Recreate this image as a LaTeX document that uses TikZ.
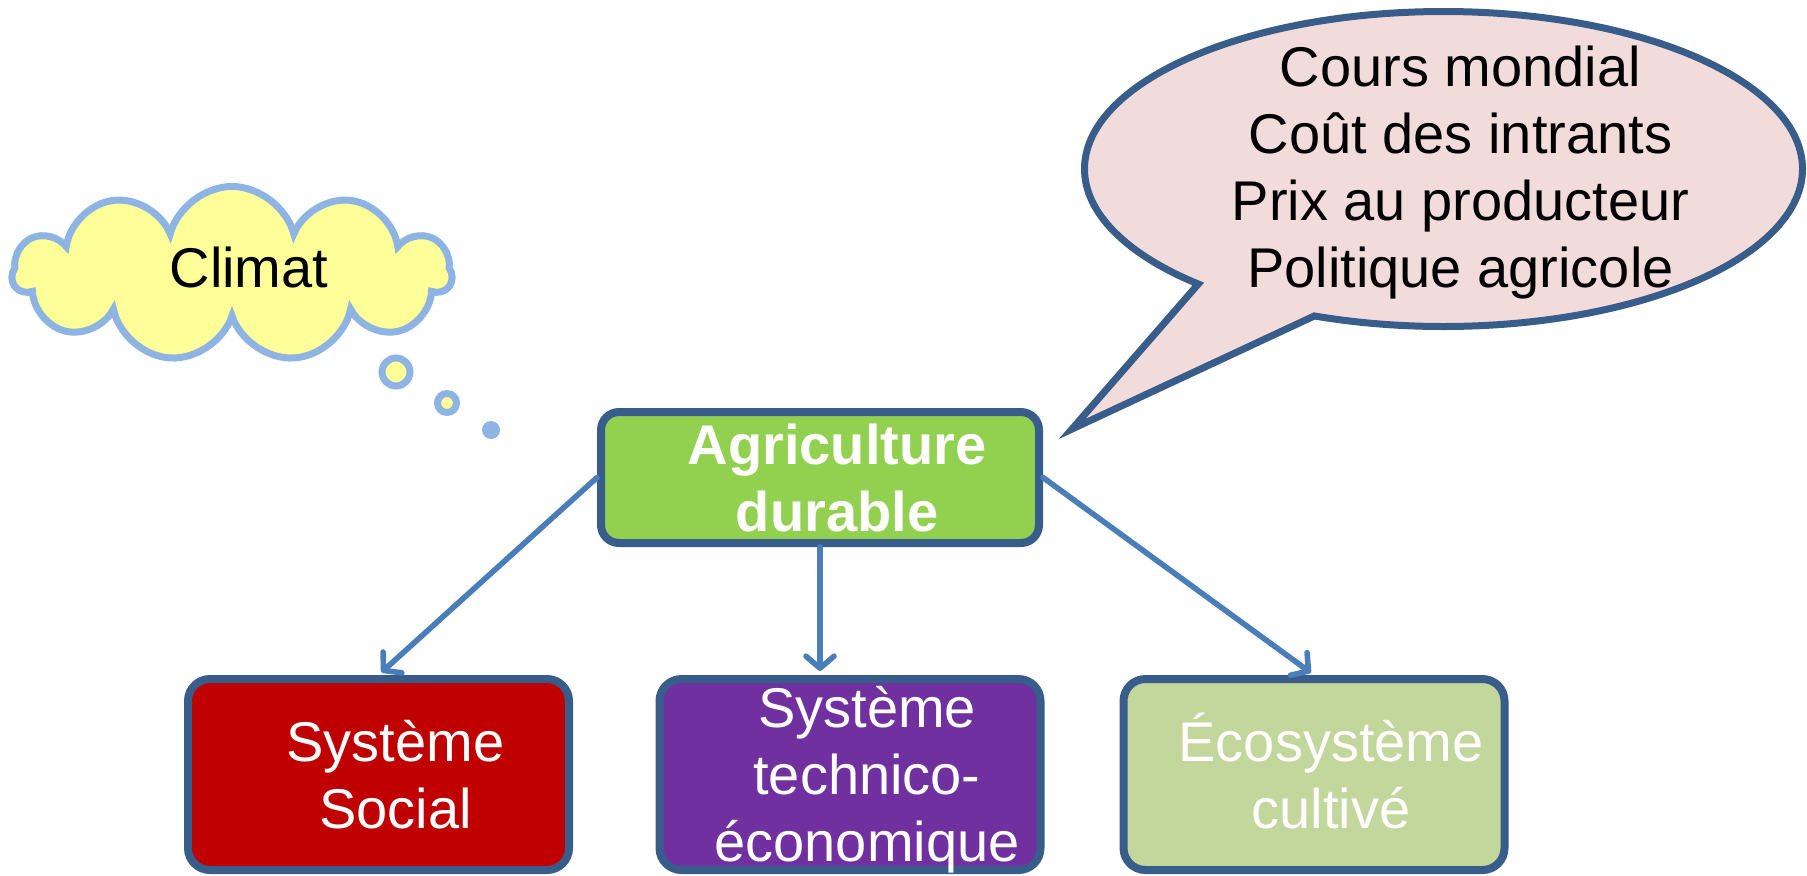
\documentclass[tikz,border=0pt]{standalone}
\usepackage{fontspec}
\setmainfont{Liberation Sans}
\usetikzlibrary{shapes.geometric,shapes.symbols,shapes.callouts,arrows.meta}

\definecolor{boxline}{RGB}{56,93,138}
\definecolor{arrowblue}{RGB}{74,126,187}
\definecolor{agrigreen}{RGB}{146,208,80}
\definecolor{socialred}{RGB}{192,0,0}
\definecolor{techpurple}{RGB}{112,48,160}
\definecolor{ecogreen}{RGB}{195,214,155}
\definecolor{calloutfill}{RGB}{242,220,219}
\definecolor{cloudline}{RGB}{142,180,227}
\definecolor{cloudfill}{RGB}{255,255,153}

% text sits a little right of (and below) the shape centre
\newcommand{\padlines}[2][30.5pt]{\begin{tabular}{@{\hspace{17pt}}c@{}}\rule{0pt}{#1}#2\end{tabular}}

\begin{document}
\begin{tikzpicture}[
    x=0.5pt, y=-0.5pt,
    node distance=148.5pt,
    bigfont/.style={font=\fontsize{28}{33.5}\selectfont},
    box/.style={rectangle, draw=boxline, line width=4pt, rounded corners=11pt, text=white, bigfont, minimum width=190.5pt, minimum height=95.5pt, inner xsep=0pt, inner ysep=-8pt},
    arrow/.style={-{Straight Barb[length=6pt,width=14pt,round]}, line width=2.8pt, draw=arrowblue, line cap=round, shorten >=2pt},
    bubble/.style={circle, draw=cloudline, fill=cloudfill, line width=3.5pt, inner sep=0pt}
]
\useasboundingbox (0,0) rectangle (1807,875);

% Central node
\node[box, fill=agrigreen, minimum width=219pt, minimum height=65.5pt, rounded corners=9pt, font=\fontsize{28}{33.5}\selectfont\bfseries] (agri) at (820,477.5) {\padlines{Agriculture\\durable}};

% Three systems
\node[box, fill=socialred, below of=agri, xshift=-220.75pt] (social) {\padlines{Système\\Social}};
\node[box, fill=techpurple, below of=agri, xshift=15pt] (tech) {\padlines{Système\\technico-\\économique}};
\node[box, fill=ecogreen, below of=agri, xshift=247pt] (eco) {\padlines{Écosystème\\cultivé}};

% Economic factors (speech bubble)
\coordinate (tip) at (1072,429);
\node[ellipse callout, draw=boxline, fill=calloutfill, line width=3.5pt, minimum width=359pt, minimum height=157.5pt, callout absolute pointer={(tip)}, callout pointer arc=22, inner xsep=0pt, inner ysep=-14pt, bigfont] (ecofactors) at (1443.5,169) {\padlines[28pt]{Cours mondial\\Coût des intrants\\Prix au producteur\\Politique agricole}};

% Climate (thought cloud)
\node[cloud, cloud puffs=11, cloud ignores aspect, draw=cloudline, fill=cloudfill, line width=3.5pt, minimum width=219.5pt, minimum height=87.5pt, inner sep=0pt, bigfont] (climat) at (232,274) {\padlines[23.5pt]{Climat}};
\node[bubble, minimum size=14pt] (b1) at (396,372) {};
\node[bubble, minimum size=9.5pt] (b2) at (447,403) {};
\node[circle, fill=cloudline, minimum size=9pt, inner sep=0pt] (b3) at (491,430) {};

% Arrows
\draw[arrow] (agri.west) -- (social.north);
\draw[arrow] (agri.south) -- (agri.south |- tech.north);
\draw[arrow] (agri.east) -- (eco.north);

\end{tikzpicture}
\end{document}
